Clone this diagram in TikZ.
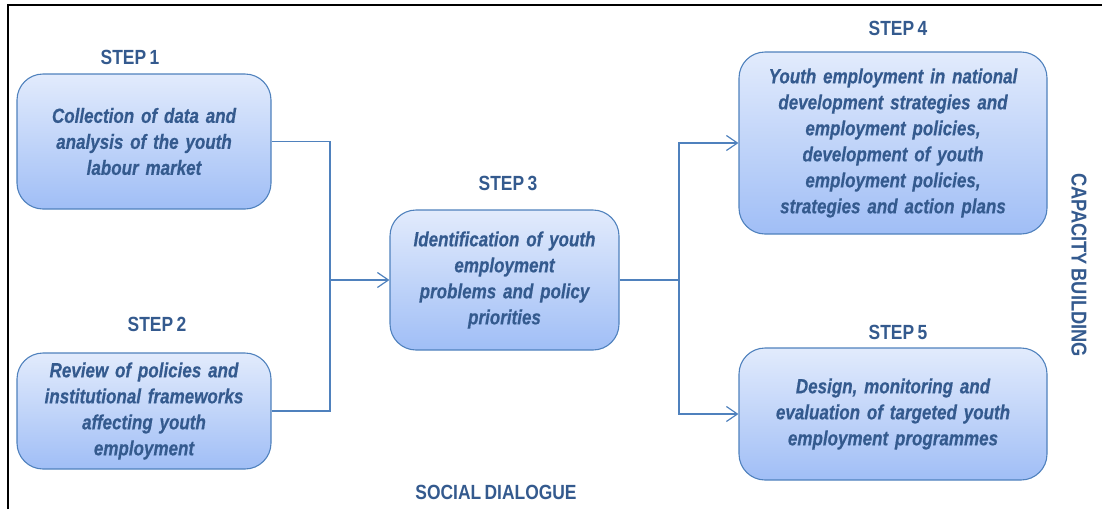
\documentclass[tikz,border=0pt]{standalone}
\usepackage{fontspec}
\usetikzlibrary{arrows.meta}
\newfontfamily\diagfont{Liberation Sans}[FakeStretch=0.83,WordSpace=0.5,
  BoldItalicFeatures={FakeBold=0.4}]
\newfontfamily\labelfont{Liberation Sans}[FakeStretch=0.85,WordSpace=0.7]
\definecolor{edgeblue}{RGB}{79,129,189}
\definecolor{textblue}{RGB}{52,90,142}
\definecolor{filltop}{RGB}{226,235,252}
\definecolor{fillbottom}{RGB}{160,190,246}
\tikzset{
  stagebox/.style={draw=edgeblue, line width=1.1pt, rounded corners=26pt,
    top color=filltop, bottom color=fillbottom, align=center,
    text=textblue, inner sep=0pt,
    font=\diagfont\bfseries\itshape\fontsize{20.5}{26}\selectfont},
  steplabel/.style={text=textblue, font=\labelfont\bfseries\fontsize{20.5}{22}\selectfont},
  sidelabel/.style={text=textblue, font=\labelfont\bfseries\fontsize{20.5}{22}\selectfont},
  link/.style={draw=edgeblue, line width=1.2pt},
  arrowlink/.style={link, -{Straight Barb[length=11pt,width=15pt,line width=1.2pt]}},
  frameline/.style={draw=black, line width=2.6pt}
}
\begin{document}
\begin{tikzpicture}[x=1pt,y=-1pt]
  \useasboundingbox (0,0) rectangle (1102,509);
  % outer frame (top and left edges)
  \draw[frameline] (8,509) -- (8,5) -- (1102,5);

  % the five stages
  \node[stagebox, minimum width=254pt, minimum height=135pt, text width=240pt] (s1) at (144,141.5)
    {Collection of data and\\analysis of the youth\\labour market};
  \node[stagebox, minimum width=254pt, minimum height=116pt, text width=240pt] (s2) at (144,411)
    {Review of policies and\\institutional frameworks\\affecting youth\\employment};
  \node[stagebox, minimum width=229pt, minimum height=140pt, text width=215pt] (s3) at (504.5,280)
    {Identification of youth\\employment\\problems and policy\\priorities};
  \node[stagebox, minimum width=308pt, minimum height=182pt, text width=295pt] (s4) at (893,143)
    {Youth employment in national\\development strategies and\\employment policies,\\development of youth\\employment policies,\\strategies and action plans};
  \node[stagebox, minimum width=308pt, minimum height=132pt, text width=295pt] (s5) at (893,414)
    {Design, monitoring and\\evaluation of targeted youth\\employment programmes};

  % stage titles
  \node[steplabel] (t1) at (130,57) {STEP 1};
  \node[steplabel] (t2) at (157,324) {STEP 2};
  \node[steplabel] (t3) at (508,183) {STEP 3};
  \node[steplabel] (t4) at (898,28) {STEP 4};
  \node[steplabel] (t5) at (898,332) {STEP 5};

  % cross-cutting themes
  \node[sidelabel] (sd) at (496,492) {SOCIAL DIALOGUE};
  \node[sidelabel, rotate=-90, font=\labelfont\bfseries\fontsize{21.5}{22}\selectfont] (cb) at (1079,265) {CAPACITY BUILDING};

  % connectors
  \coordinate (j1) at (330,280);
  \coordinate (j2) at (679,280);
  \draw[link] (s1.east) -| (j1);
  \draw[link] (s2.east) -| (j1);
  \draw[arrowlink] (j1) -- (s3.west);
  \draw[link] (s3.east) -- (j2);
  \draw[arrowlink] (j2) |- (s4.west);
  \draw[arrowlink] (j2) |- (s5.west);
\end{tikzpicture}
\end{document}
